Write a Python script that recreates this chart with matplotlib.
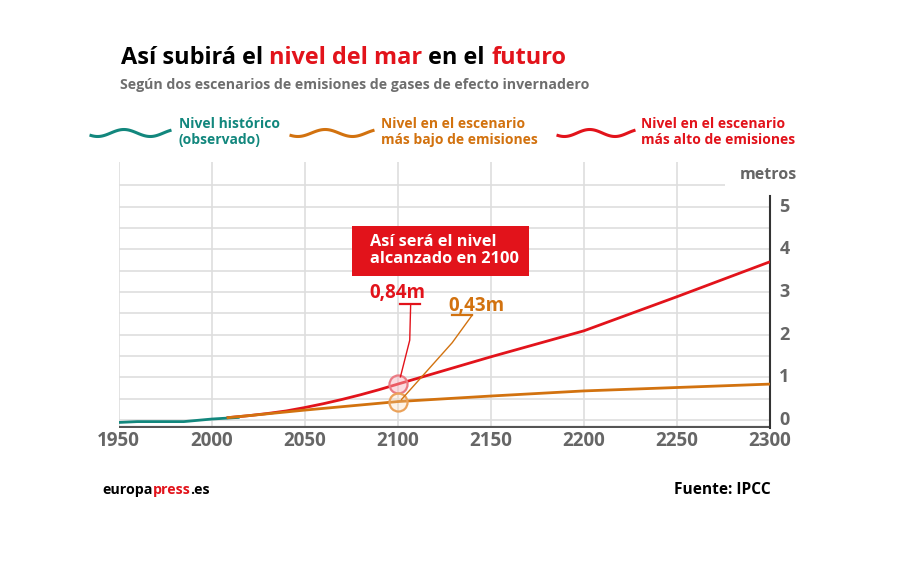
import numpy as np
import matplotlib
matplotlib.use("Agg")
import matplotlib.pyplot as plt
from matplotlib.lines import Line2D
from matplotlib.patches import Rectangle

plt.rcParams['font.family'] = ['Open Sans', 'DejaVu Sans']

# ---- data ----
hist_years = [1950, 1960, 1985, 2000, 2015]
hist_vals = [-0.06, -0.04, -0.04, 0.02, 0.06]

low_years = [2008, 2020, 2050, 2100, 2150, 2200, 2300]
low_vals = [0.05, 0.10, 0.23, 0.43, 0.56, 0.68, 0.84]

high_years = [2008, 2020, 2030, 2040, 2050, 2060, 2070, 2080, 2090, 2100, 2150, 2200, 2250, 2300]
high_vals = [0.05, 0.10, 0.15, 0.21, 0.29, 0.38, 0.48, 0.59, 0.71, 0.84, 1.48, 2.09, 2.89, 3.71]

x_ticks = [1950, 2000, 2050, 2100, 2150, 2200, 2250, 2300]
y_ticks = [0, 1, 2, 3, 4, 5]
y_grid = [0, 0.5, 1, 1.5, 2, 2.5, 3, 3.5, 4, 4.5, 5, 5.5]

ann_year = 2100
ann_high = 0.84
ann_low = 0.43
ann_high_label = "0,84m"
ann_low_label = "0,43m"

TEAL = "#12877d"
ORANGE = "#d2720f"
RED = "#e2131b"
GRAY = "#666666"
GRID = "#dedede"

W, H = 904, 578
fig = plt.figure(figsize=(W / 100, H / 100), dpi=100)
fig.patch.set_facecolor("white")

def fx(px):
    return px / W

def fy(py):
    return 1 - py / H

ax = fig.add_axes([fx(118.7), fy(428), fx(770) - fx(118.7), fy(162) - fy(428)])
ax.set_xlim(1950, 2300)
ax.set_ylim(-0.19, 6.05)
for s in ax.spines.values():
    s.set_visible(False)
ax.set_xticks([])
ax.set_yticks([])

# grid
for yv in y_grid:
    ax.plot([1950, 2300 if yv < 5.5 else 2276], [yv, yv], color=GRID, lw=1.2, zorder=1,
            solid_capstyle='butt')
for xv in x_ticks[:-1]:
    ax.axvline(xv, color=GRID, lw=1.2, zorder=1)

# axes lines
ax.axhline(-0.19, color="#555555", lw=3.0, zorder=3)
ax.plot([2300, 2300], [-0.19, 5.25], color="#333333", lw=1.5, zorder=3, clip_on=False)

# tick labels
for xv in x_ticks:
    ax.text(xv, -0.5, str(xv), ha='center', va='center', fontsize=13.5,
            fontweight='bold', color=GRAY)
for yv in y_ticks:
    ax.text(2305, yv, str(yv), ha='left', va='center', fontsize=13,
            fontweight='bold', color=GRAY, clip_on=False)
fig.text(fx(797), fy(175), "metros", ha='right', va='center', fontsize=11.5,
         fontweight='bold', color=GRAY)

# series
ax.plot(hist_years, hist_vals, color=TEAL, lw=2.0, zorder=5, solid_capstyle='butt')
ax.plot(high_years, high_vals, color=RED, lw=2.0, zorder=4, solid_capstyle='butt')
ax.plot(low_years, low_vals, color=ORANGE, lw=2.0, zorder=6, solid_capstyle='butt')

# annotation circles
ax.plot([ann_year], [ann_high], 'o', ms=13, mfc=(0.97, 0.7, 0.74, 0.45),
        mec="#ea7b84", mew=1.6, zorder=7)
ax.plot([ann_year], [ann_low], 'o', ms=13, mfc=(0.99, 0.85, 0.7, 0.3),
        mec="#eba25a", mew=1.6, zorder=7)

# leaders
ax.plot([2101.4, 2106.4, 2106.9], [ann_high + 0.17, 1.87, 2.72], color=RED, lw=1.0, zorder=7)
ax.plot([2100.9, 2112], [2.72, 2.72], color=RED, lw=1.6, zorder=7)
ax.text(2100, 2.98, ann_high_label, ha='center', va='center', fontsize=13.5,
        fontweight='bold', color=RED, zorder=8)

ax.plot([2102.0, 2129.2, 2140.0], [ann_low + 0.05, 1.81, 2.46], color=ORANGE, lw=1.0, zorder=7)
ax.plot([2129.0, 2140.0], [2.46, 2.46], color=ORANGE, lw=1.6, zorder=7)
ax.text(2142, 2.68, ann_low_label, ha='center', va='center', fontsize=13.5,
        fontweight='bold', color=ORANGE, zorder=8)

# red box
ax.add_patch(Rectangle((2075.3, 3.38), 2170.4 - 2075.3, 4.55 - 3.38, facecolor=RED,
                       edgecolor='none', zorder=8))
ax.text(2084.9, 3.965, "Así será el nivel\nalcanzado en 2100", ha='left', va='center',
        fontsize=11.8, fontweight='bold', color='white', linespacing=1.1, zorder=9)

# ---- title ----
def chain_ann(parts, x, y, size, weight, ha='left'):
    t = fig.text(x, y, parts[0][0], color=parts[0][1], fontsize=size, fontweight=weight,
                 ha='left', va='baseline')
    prev = t
    for txt, col in parts[1:]:
        prev = ax.annotate(txt, xy=(1, 0), xycoords=prev, xytext=(0, 0),
                           textcoords='offset points', color=col, fontsize=size,
                           fontweight=weight, ha='left', va='bottom',
                           annotation_clip=False)
    return t

chain_ann([("Así subirá el ", "black"), ("nivel del mar", RED), (" en el ", "black"),
           ("futuro", RED)], fx(121), fy(64), 16.9, 'bold')
fig.text(fx(120), fy(89), "Según dos escenarios de emisiones de gases de efecto invernadero",
         fontsize=10.2, fontweight='bold', color="#6e6e6e", ha='left', va='baseline')

# ---- legend ----
def wave(x0, x1, yc, color):
    xs = np.linspace(x0, x1, 80)
    ph = (xs - x0) / (x1 - x0) * 2 * np.pi * 1.5 - np.pi * 0.75
    ys = yc - 3.5 * np.sin(ph)
    fig.add_artist(Line2D(fx(xs), fy(ys), color=color, lw=2.2, transform=fig.transFigure))

wave(91, 170, 133, TEAL)
wave(291, 373, 133, ORANGE)
wave(558, 634, 133, RED)
fig.text(fx(179), fy(132), "Nivel histórico\n(observado)", fontsize=10, fontweight='bold',
         color=TEAL, ha='left', va='center', linespacing=1.1)
fig.text(fx(381), fy(132), "Nivel en el escenario\nmás bajo de emisiones", fontsize=10,
         fontweight='bold', color=ORANGE, ha='left', va='center', linespacing=1.1)
fig.text(fx(641), fy(132), "Nivel en el escenario\nmás alto de emisiones", fontsize=10,
         fontweight='bold', color=RED, ha='left', va='center', linespacing=1.1)

# ---- footer ----
chain_ann([("europa", "black"), ("press", RED), (".es", "black")], fx(102), fy(494),
          10.3, 'bold')
fig.text(fx(771), fy(494), "Fuente: IPCC", fontsize=11.2, fontweight='bold', color='black',
         ha='right', va='baseline')

fig.savefig("out.png", dpi=100, facecolor='white')
